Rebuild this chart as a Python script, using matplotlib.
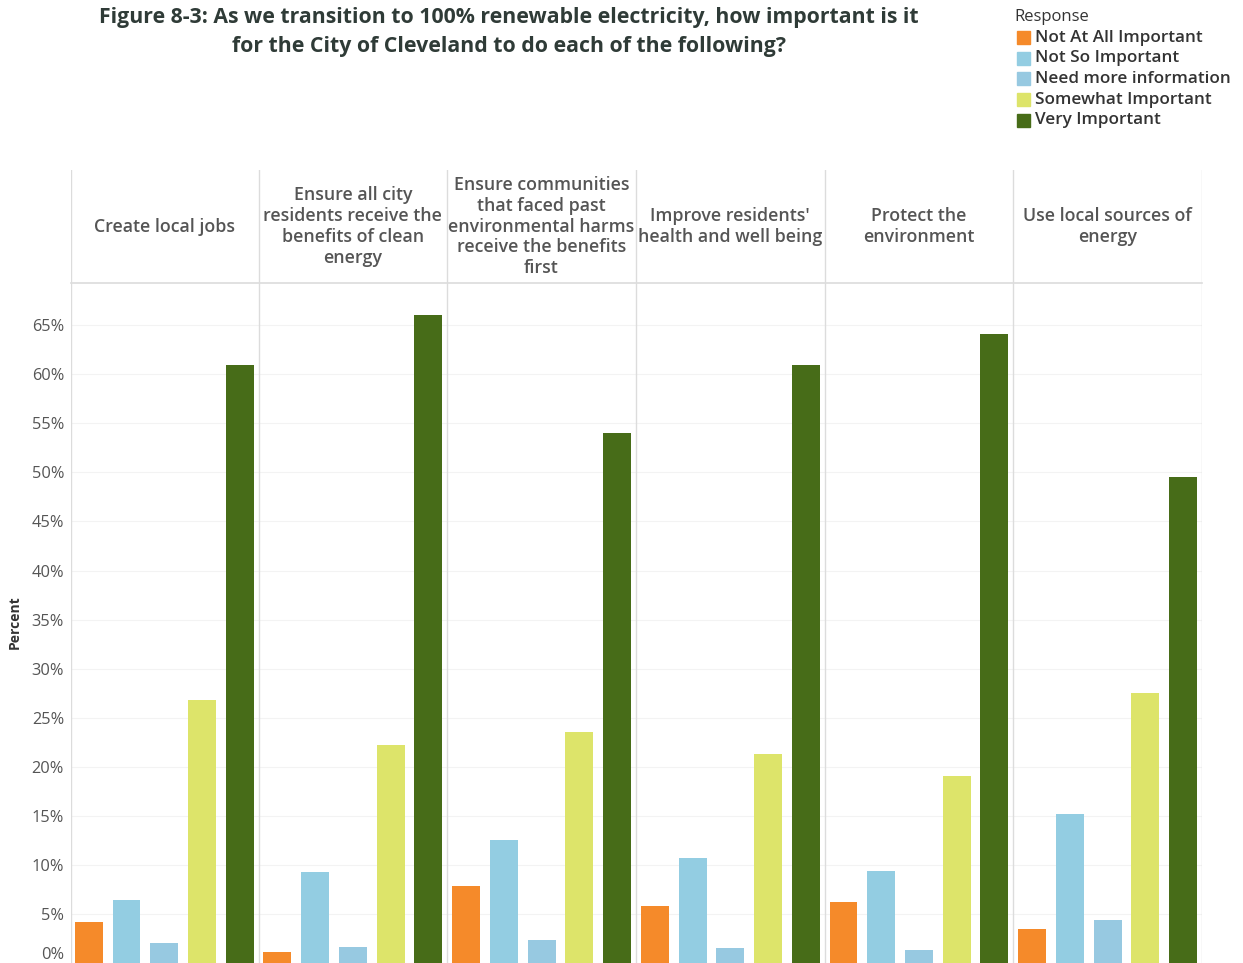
import matplotlib.pyplot as plt
from matplotlib.patches import Rectangle
import numpy as np

plt.rcParams['font.family'] = ['Open Sans', 'DejaVu Sans']

# facets (one panel per action)
actions = [
    'Create local jobs',
    'Ensure all city\nresidents receive the\nbenefits of clean\nenergy',
    'Ensure communities\nthat faced past\nenvironmental harms\nreceive the benefits\nfirst',
    "Improve residents'\nhealth and well being",
    'Protect the\nenvironment',
    'Use local sources of\nenergy',
]
responses = ['Not At All Important', 'Not So Important', 'Need more information',
             'Somewhat Important', 'Very Important']
colors = ['#F58A2A', '#93CDE2', '#97C9E1', '#DDE46A', '#476C18']

# percent per response, one list per response across the six actions
not_at_all = [4.2, 1.1, 7.8, 5.8, 6.2, 3.5]
not_so = [6.4, 9.3, 12.5, 10.7, 9.4, 15.2]
need_info = [2.0, 1.6, 2.3, 1.5, 1.3, 4.4]
somewhat = [26.8, 22.2, 23.5, 21.3, 19.1, 27.5]
very = [60.9, 66.0, 54.0, 60.9, 64.1, 49.5]
series = [not_at_all, not_so, need_info, somewhat, very]
yticks = list(range(0, 70, 5))

W, H = 1243, 963
fig = plt.figure(figsize=(W / 100, H / 100), dpi=100)

x0, x1 = 71, 1202
plot_top, head_top = 283, 170
ax = fig.add_axes([x0 / W, 0, (x1 - x0) / W, (H - plot_top) / H])
hx = fig.add_axes([x0 / W, (H - plot_top) / H, (x1 - x0) / W, (plot_top - head_top) / H])

n = len(actions)
for j, (vals, c) in enumerate(zip(series, colors)):
    xs = np.arange(n) * 5 + j
    ax.bar(xs, vals, width=0.74, color=c, zorder=3)

ax.set_xlim(-0.47, n * 5 - 0.5)
ax.set_ylim(0, 69.3)
ax.set_xticks([])
ax.set_yticks(yticks)
ax.set_yticklabels([f'{t}%' for t in yticks], fontsize=11.8, color='#555555')
ax.tick_params(axis='y', length=0, pad=5)
labs = ax.get_yticklabels()
labs[0].set_va('bottom')
for y in yticks[1:]:
    ax.axhline(y, color='#f3f3f3', lw=0.8, zorder=1)
for s in ax.spines.values():
    s.set_visible(False)
sep_color = '#dcdcdc'
for k in range(n + 1):
    ax.axvline(k * 5 - 0.5 if k else -0.47, color=sep_color, lw=1, zorder=2)
ax.axhline(69.3, color=sep_color, lw=1.2, clip_on=False, zorder=2)

# header row with facet labels
hx.set_xlim(ax.get_xlim())
hx.set_ylim(0, 1)
hx.axis('off')
for k in range(n + 1):
    hx.axvline(k * 5 - 0.5 if k else -0.47, color=sep_color, lw=1)
for k, name in enumerate(actions):
    hx.text(k * 5 + 2, 0.50, name, ha='center', va='center', fontsize=12.8,
            color='#555555', linespacing=1.2, fontweight='semibold')

fig.text(15 / W, 1 - 622 / H, 'Percent', rotation=90, ha='center', va='center',
         fontsize=10, fontweight='bold', color='#333333')

fig.text(509 / W, 1 - 32 / H,
         'Figure 8-3: As we transition to 100% renewable electricity, how important is it\n'
         'for the City of Cleveland to do each of the following?',
         ha='center', va='center', fontsize=15.3, fontweight='bold', color='#2F3B37',
         linespacing=1.5)

# legend
fig.text(1014 / W, 1 - 17 / H, 'Response', ha='left', va='center', fontsize=12,
         color='#333333')
for i, (name, c) in enumerate(zip(responses, colors)):
    yc = 37.5 + i * 20.7
    fig.patches.append(Rectangle((1017 / W, 1 - (yc + 6.5) / H), 13 / W, 13 / H,
                                 transform=fig.transFigure, color=c))
    fig.text(1035 / W, 1 - yc / H, name, ha='left', va='center', fontsize=12.3,
             color='#333333', fontweight='semibold')

fig.savefig('out.png', dpi=100, facecolor='white')
